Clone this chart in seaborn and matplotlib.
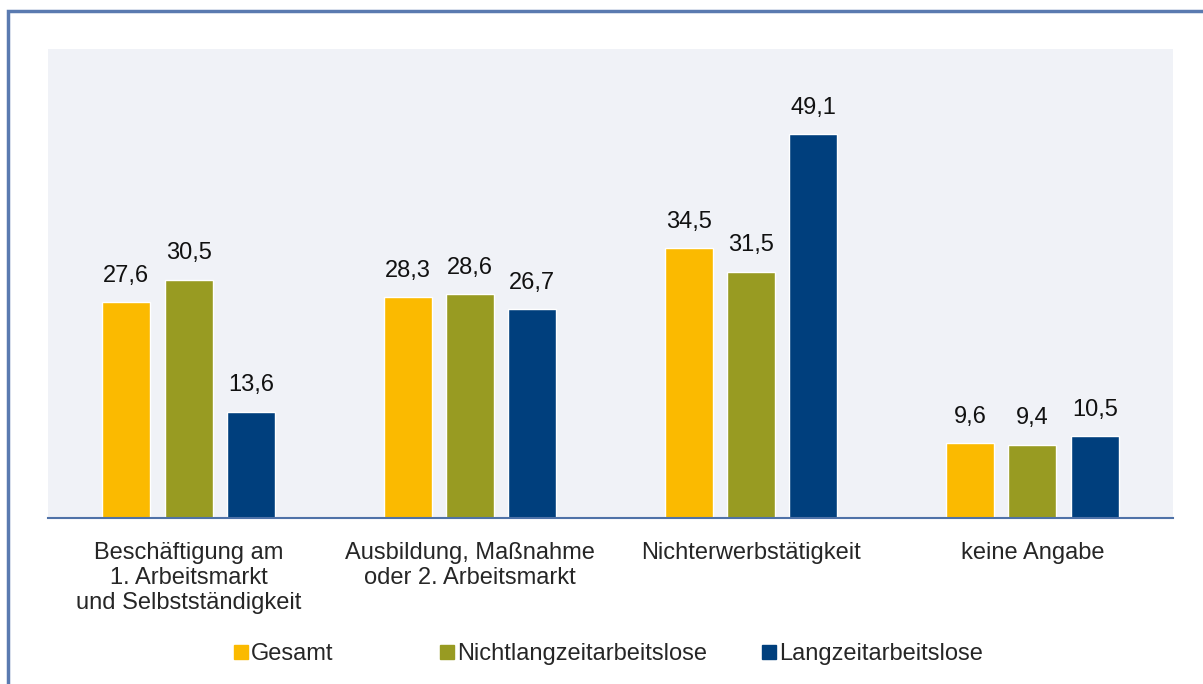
import pandas as pd
import matplotlib.pyplot as plt
import seaborn as sns
from matplotlib.lines import Line2D
from matplotlib.patches import Rectangle

# Data
categories = ["Beschäftigung am\n1. Arbeitsmarkt\nund Selbstständigkeit",
              "Ausbildung, Maßnahme\noder 2. Arbeitsmarkt",
              "Nichterwerbstätigkeit",
              "keine Angabe"]
groups = ["Gesamt", "Nichtlangzeitarbeitslose", "Langzeitarbeitslose"]
gesamt = [27.6, 28.3, 34.5, 9.6]
nicht_langzeit = [30.5, 28.6, 31.5, 9.4]
langzeit = [13.6, 26.7, 49.1, 10.5]
colors = ["#FBBA00", "#989B22", "#003F7D"]

df = pd.DataFrame({
    "Kategorie": categories * 3,
    "Gruppe": [g for g in groups for _ in categories],
    "Wert": gesamt + nicht_langzeit + langzeit,
})

sns.set_style("white")
plt.rcParams['font.family'] = ['Liberation Sans', 'DejaVu Sans']

fig = plt.figure(figsize=(12.03, 6.84), dpi=100)
ax = fig.add_axes([48 / 1203, 1 - 518 / 684, 1125 / 1203, 469 / 684])
ax.set_facecolor("#F0F2F7")

sns.barplot(data=df, x="Kategorie", y="Wert", hue="Gruppe", palette=colors,
            width=0.665, gap=0.23, ax=ax, legend=False, saturation=1)

for cont in ax.containers:
    ax.bar_label(cont, labels=[f"{v:.1f}".replace(".", ",") for v in cont.datavalues],
                 padding=11, fontsize=17, color="#111111")

ax.set_ylim(0, 60)
ax.set_xlim(-0.5, 3.5)
ax.set_yticks([])
ax.set_xlabel("")
ax.set_ylabel("")
ax.tick_params(axis="x", length=0, pad=17, labelsize=17)
for s in ["top", "right", "left"]:
    ax.spines[s].set_visible(False)
ax.spines["bottom"].set_color("#4F72A8")
ax.spines["bottom"].set_linewidth(1.5)

# outer frame
fig.patches.append(Rectangle((8 / 1203, -0.1), 1.2, 1 - 11 / 684 + 0.1,
                             transform=fig.transFigure, fill=False,
                             edgecolor="#5A7AB0", linewidth=2.5))

# legend entries placed like the original (uneven spacing)
legend_x = [230, 436, 758]
for g, c, x in zip(groups, colors, legend_x):
    h = Line2D([], [], marker="s", linestyle="", markersize=10,
               markerfacecolor=c, markeredgecolor=c)
    fig.legend([h], [g], loc="center left", bbox_to_anchor=(x / 1203, 1 - 654 / 684),
               frameon=False, fontsize=17, handletextpad=0.0, handlelength=0.9,
               borderpad=0.0, borderaxespad=0.0)

plt.savefig("out.png", dpi=100)
